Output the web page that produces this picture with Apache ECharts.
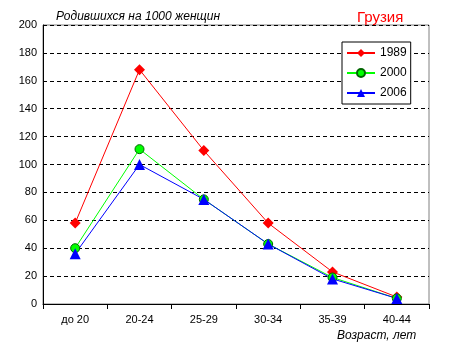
<!DOCTYPE html>
<html><head><meta charset="utf-8">
<script src="https://cdn.jsdelivr.net/npm/echarts@6/dist/echarts.min.js"></script>
<style>html,body{margin:0;padding:0;background:#fff}#c{width:451px;height:346px}</style>
</head><body><div id="c"></div>
<script>
const categories = ['до 20','20-24','25-29','30-34','35-39','40-44'];
const s1989 = [58,168,110,58,23,5];
const s2000 = [40,111,75,43,19,4];
const s2006 = [36,100,75,43,18,4];
const yTicks = [0,20,40,60,80,100,120,140,160,180,200];

const font = 'Liberation Sans, Arial, sans-serif';
const chart = echarts.init(document.getElementById('c'), null, {renderer:'canvas'});
chart.setOption({
  animation:false,
  backgroundColor:'#fff',
  textStyle:{fontFamily:font},
  grid:{left:43,right:22,top:25,bottom:42,show:true,borderColor:'#808080',borderWidth:1,backgroundColor:'transparent'},
  title:[
    {text:'Родившихся на 1000 женщин',left:51,top:6,textStyle:{fontFamily:font,fontSize:12,fontStyle:'italic',fontWeight:'normal',color:'#000'}},
    {text:'Грузия',left:352,top:5,textStyle:{fontFamily:font,fontSize:15,fontWeight:'normal',color:'#ff0000'}},
    {text:'Возраст, лет',left:332,top:325,textStyle:{fontFamily:font,fontSize:12,fontStyle:'italic',fontWeight:'normal',color:'#000'}}
  ],
  legend:{
    orient:'vertical',left:342,top:42,padding:[5,4,5,4],itemGap:8,itemWidth:28,itemHeight:10,
    borderColor:'#000',borderWidth:1,backgroundColor:'#fff',
    textStyle:{fontFamily:font,fontSize:12,color:'#000'},
    data:['1989','2000','2006']
  },
  xAxis:{
    type:'category',data:categories,boundaryGap:true,
    axisLine:{lineStyle:{color:'#000',width:1}},
    axisTick:{show:true,length:5,inside:false,lineStyle:{color:'#000'}},
    axisLabel:{color:'#000',fontSize:11,margin:10,fontFamily:font},
    splitLine:{show:false}
  },
  yAxis:{
    type:'value',min:0,max:200,interval:20,
    axisLine:{show:true,lineStyle:{color:'#000',width:1}},
    axisTick:{show:false},
    axisLabel:{color:'#000',fontSize:11,margin:6,fontFamily:font,
      formatter:v=>yTicks.includes(v)?String(v):''},
    splitLine:{show:true,lineStyle:{color:'#000',type:[4,3],width:1}}
  },
  series:[
    {name:'1989',type:'line',data:s1989,symbol:'diamond',symbolSize:11,
     lineStyle:{color:'#ff0000',width:1},itemStyle:{color:'#ff0000'},color:'#ff0000'},
    {name:'2000',type:'line',data:s2000,symbol:'circle',symbolSize:9,
     lineStyle:{color:'#00ff00',width:1},itemStyle:{color:'#00ff00',borderColor:'#006600',borderWidth:1},color:'#00ff00'},
    {name:'2006',type:'line',data:s2006,symbol:'triangle',symbolSize:11,
     lineStyle:{color:'#0000ff',width:1},itemStyle:{color:'#0000ff'},color:'#0000ff'}
  ]
});
</script></body></html>
